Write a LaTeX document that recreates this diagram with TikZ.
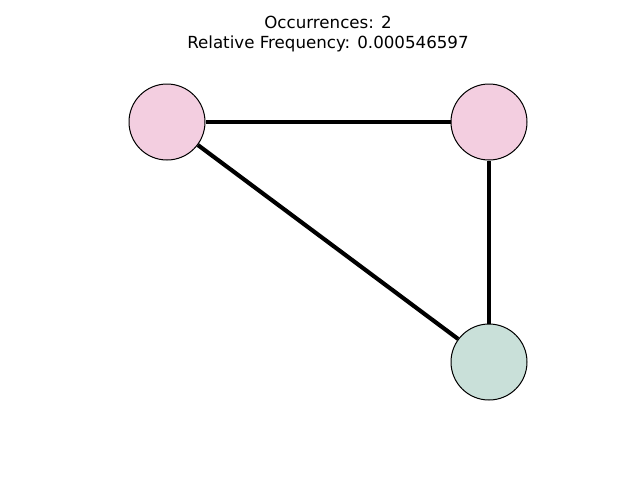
\documentclass[tikz,border=0pt]{standalone}
\usepackage{fontspec}
\setmainfont{DejaVu Sans}
\definecolor{pinkfill}{HTML}{F3CEE0}
\definecolor{greenfill}{HTML}{C9E0D9}
\begin{document}
\begin{tikzpicture}[x=0.75pt,y=-0.75pt,
  vertex/.style={circle,draw=black,line width=0.75pt,minimum size=57pt,inner sep=0pt},
  link/.style={line width=3.1pt,black},
  caption/.style={font=\fontsize{12.5pt}{15pt}\selectfont}]
\useasboundingbox (0,0) rectangle (640,480);
% title lines
\node[caption] (t1) at (328,22) {Occurrences: 2};
\node[caption] (t2) at (328,44) {Relative Frequency: 0.000546597};
% vertices
\node[vertex,fill=pinkfill] (a) at (167,122) {};
\node[vertex,fill=pinkfill] (b) at (489,122) {};
\node[vertex,fill=greenfill] (c) at (489,362) {};
% edges
\draw[link] (a) -- (b);
\draw[link] (a) -- (c);
\draw[link] (b) -- (c);
\end{tikzpicture}
\end{document}
